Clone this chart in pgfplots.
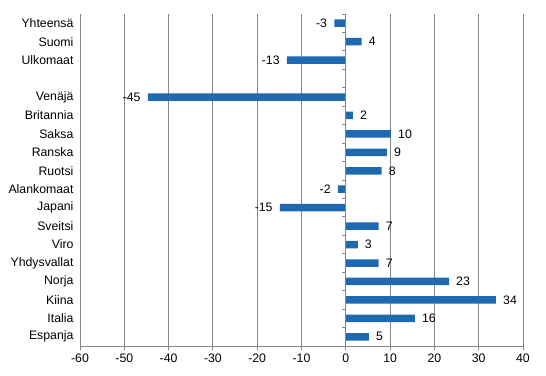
\documentclass[border=0pt]{standalone}
\usepackage{fontspec}
\setmainfont{Liberation Sans}
\usepackage{pgfplots}
\pgfplotsset{compat=1.18}
\definecolor{barblue}{RGB}{31,105,176}
\definecolor{gridgray}{RGB}{134,134,134}
\begin{document}
\begin{tikzpicture}
\begin{axis}[
  scale only axis, width=443bp, height=332bp,
  font=\fontsize{12.3bp}{14bp}\selectfont,
  /pgf/number format/assume math mode=true,
  xbar, bar width=7.5bp, bar shift=0pt,
  xmin=-60, xmax=40, ymin=0.5, ymax=18.5, y dir=reverse,
  xtick={-60,-50,...,40},
  ytick={1,2,3,5,6,7,8,9,10,11,12,13,14,15,16,17,18},
  yticklabels={Yhteensä,Suomi,Ulkomaat,Venäjä,Britannia,Saksa,Ranska,Ruotsi,Alankomaat,Japani,Sveitsi,Viro,Yhdysvallat,Norja,Kiina,Italia,Espanja},
  axis lines*=left,
  y axis line style={draw=none},
  x axis line style={gridgray, line width=0.8bp},
  ytick style={draw=none},
  xtick style={gridgray, line width=0.8bp},
  tick align=outside, major tick length=4bp,
  xmajorgrids, major grid style={gridgray, line width=0.8bp},
  y tick label style={xshift=1bp},
  point meta=explicit symbolic,
  nodes near coords,
]
% positive values
\addplot[fill=barblue, draw=none,
  every node near coord/.style={anchor=west, inner xsep=7bp, font=\fontsize{12.3bp}{14bp}\selectfont}]
  coordinates {
  (3.6,2) [4]
  (1.6,6) [2]
  (10.2,7) [10]
  (9.3,8) [9]
  (8.1,9) [8]
  (7.4,12) [7]
  (2.7,13) [3]
  (7.4,14) [7]
  (23.3,15) [23]
  (33.9,16) [34]
  (15.6,17) [16]
  (5.2,18) [5]
};
% negative values
\addplot[fill=barblue, draw=none,
  every node near coord/.style={anchor=east, inner xsep=7bp, font=\fontsize{12.3bp}{14bp}\selectfont}]
  coordinates {
  (-2.6,1) [-3]
  (-13.3,3) [-13]
  (-44.7,5) [-45]
  (-1.8,10) [-2]
  (-14.9,11) [-15]
};
\draw[gridgray, line width=0.8bp] (axis cs:0,0.5) -- (axis cs:0,18.5);
\pgfplotsinvokeforeach{0.5,1.5,...,18.5}{
  \draw[gridgray, line width=0.8bp] (axis cs:0,#1) -- ([xshift=-4bp]axis cs:0,#1);
}
\end{axis}
\path (current axis.south west) +(-80bp,-30bp) (current axis.north east) +(23bp,14bp);
\end{tikzpicture}
\end{document}
